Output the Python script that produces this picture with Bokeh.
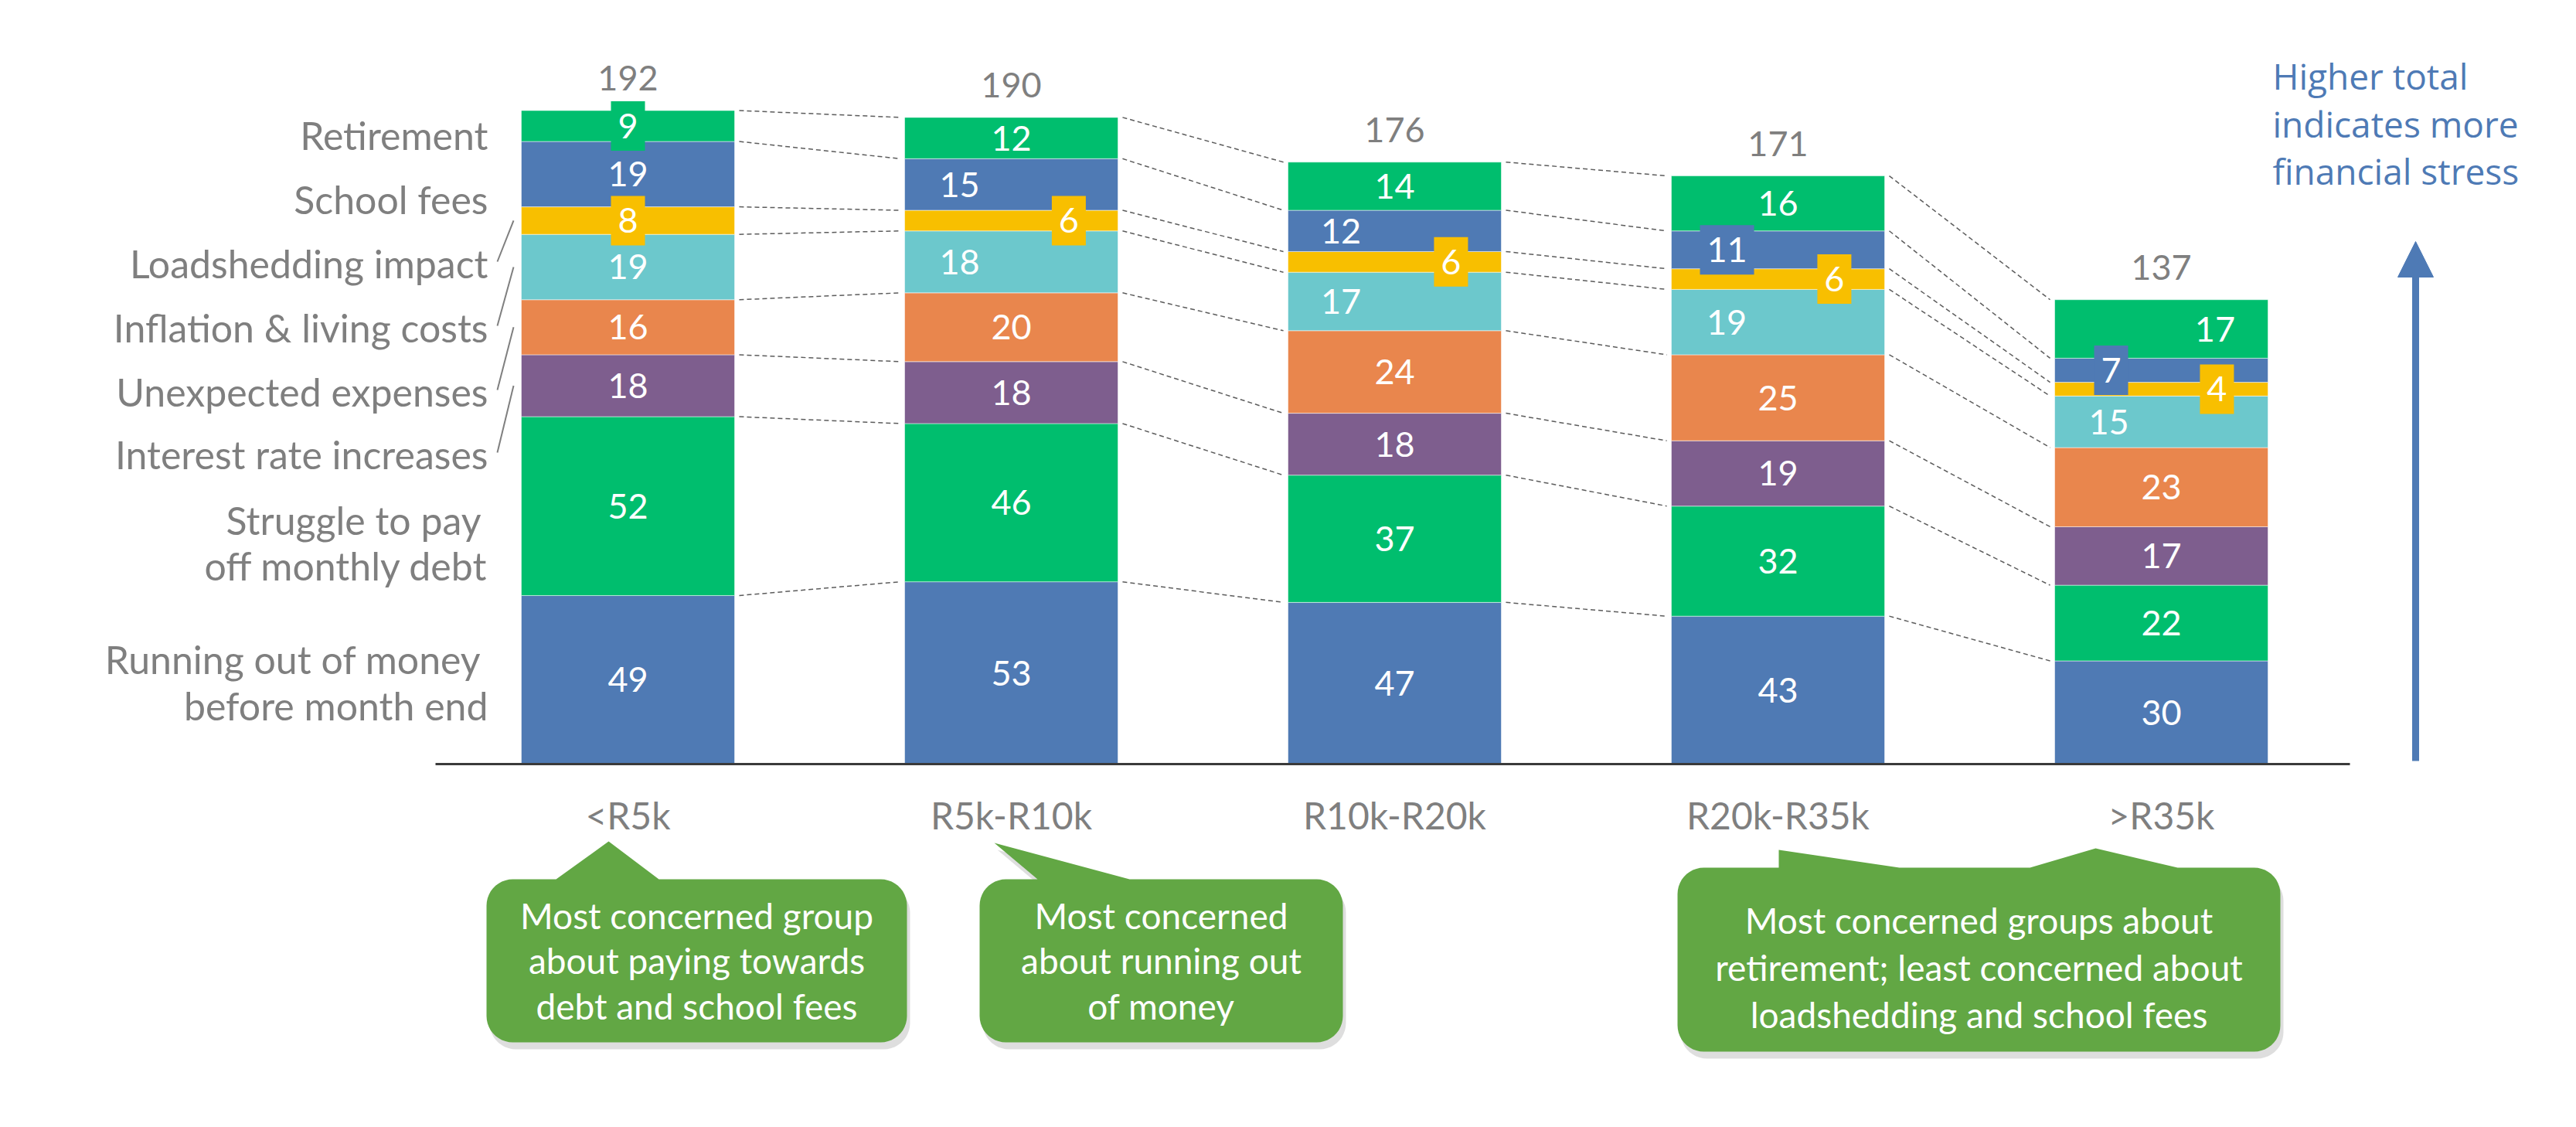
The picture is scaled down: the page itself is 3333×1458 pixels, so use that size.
import numpy as np
from bokeh.plotting import figure
from bokeh.models import LinearAxis, FixedTicker, Arrow, NormalHead, Range1d
from bokeh.core.properties import value
from bokeh.embed import file_html
from bokeh.resources import INLINE

# ---------------- data ----------------
categories = ["<R5k", "R5k-R10k", "R10k-R20k", "R20k-R35k", ">R35k"]
series_labels = [
    "Running out of money\nbefore month end",
    "Struggle to pay\noff monthly debt",
    "Interest rate increases",
    "Unexpected expenses",
    "Inflation & living costs",
    "Loadshedding impact",
    "School fees",
    "Retirement",
]
running_out = [49, 53, 47, 43, 30]
struggle_debt = [52, 46, 37, 32, 22]
interest_rate = [18, 18, 18, 19, 17]
unexpected = [16, 20, 24, 25, 23]
inflation = [19, 18, 17, 19, 15]
loadshedding = [8, 6, 6, 6, 4]
school_fees = [19, 15, 12, 11, 7]
retirement = [9, 12, 14, 16, 17]
totals = [192, 190, 176, 171, 137]

callout_texts = [
    ["Most concerned group", "about paying towards", "debt and school fees"],
    ["Most concerned", "about running out", "of money"],
    ["Most concerned groups about", "retirement; least concerned about", "loadshedding and school fees"],
]
note_lines = ["Higher total", "indicates more", "financial stress"]

# ---------------- styles ----------------
colors = ["#4F7AB4", "#00BE6E", "#7E5E8E", "#E9864D", "#6CC8CC", "#F8BF00", "#4F7AB4", "#00BE6E"]
GRAY = "#7F7F7F"
BLUE = "#4E7AB5"
CALLOUT = "#62A744"
FONT = value("Lato")

W, H = 3333, 1458
X0_PX, DX_PX, BASE_PX, PPU = 812.0, 496.0, 988.0, 4.45
BAR_W = 276.0 / DX_PX


def dx(px):
    return (px - X0_PX) / DX_PX


def dy(py):
    return (BASE_PX - py) / PPU


p = figure(width=W, height=H, x_range=Range1d(dx(0), dx(W)), y_range=Range1d(dy(H), dy(0)),
           output_backend="svg", toolbar_location=None, x_axis_type=None, y_axis_type=None,
           min_border=0, outline_line_color=None, background_fill_color="white")

vals = np.array([running_out, struggle_debt, interest_rate, unexpected,
                 inflation, loadshedding, school_fees, retirement], dtype=float)
tops = np.cumsum(vals, axis=0)
bottoms = tops - vals
ns, nc = vals.shape
xs = np.arange(nc, dtype=float)

# connectors (dashed) between bars
cx0, cy0, cx1, cy1 = [], [], [], []
for k in range(nc - 1):
    for i in range(ns):
        cx0.append(k + BAR_W / 2 + 0.012)
        cx1.append(k + 1 - BAR_W / 2 - 0.012)
        cy0.append(tops[i, k])
        cy1.append(tops[i, k + 1])
p.segment(x0=cx0, y0=cy0, x1=cx1, y1=cy1, line_color="#404040", line_width=1.5,
          line_dash="6 4", line_alpha=0.85)

# bars
bx, bb, bt, bc = [], [], [], []
for i in range(ns):
    for k in range(nc):
        bx.append(xs[k]); bb.append(bottoms[i, k]); bt.append(tops[i, k]); bc.append(colors[i])
p.vbar(x=bx, width=BAR_W, bottom=bb, top=bt, fill_color=bc, line_color="white",
       line_width=1, line_alpha=0.5)

# value labels
label_dx = {
    (4, 1): -0.135, (5, 1): 0.15, (6, 1): -0.135,
    (4, 2): -0.14, (5, 2): 0.147, (6, 2): -0.14,
    (4, 3): -0.134, (5, 3): 0.147, (6, 3): -0.133,
    (4, 4): -0.137, (5, 4): 0.145, (6, 4): -0.131, (7, 4): 0.14,
}
boxed = {(7, 0), (5, 0), (5, 1), (5, 2), (6, 3), (5, 3), (6, 4), (5, 4)}
lx, ly, lt = [], [], []
rx, ry, rw, rc = [], [], [], []
for i in range(ns):
    for k in range(nc):
        x = xs[k] + label_dx.get((i, k), 0.0)
        y = (bottoms[i, k] + tops[i, k]) / 2
        txt = str(int(vals[i, k]))
        lx.append(x); ly.append(y); lt.append(txt)
        if (i, k) in boxed:
            rx.append(x); ry.append(y)
            rw.append((44 if len(txt) == 1 else 70) / DX_PX)
            rc.append(colors[i])
p.rect(x=rx, y=ry, width=rw, height=64 / PPU, fill_color=rc, line_color=None)
p.text(x=lx, y=ly, text=lt, text_color="white", text_font=FONT, text_font_size="45px",
       text_align="center", text_baseline="middle")

# totals
p.text(x=xs, y=tops[-1] + 42 / PPU, text=[str(t) for t in totals], text_color=GRAY,
       text_font=FONT, text_font_size="45px", text_align="center", text_baseline="middle")

# legend labels on the left (one text per line)
label_py = [(852, 912), (672, 731), 587, 506, 423, 340, 257, 174]
gx, gy, gt = [], [], []
for lab, pos in zip(series_labels, label_py):
    parts = lab.split("\n")
    if len(parts) == 1:
        gx.append(dx(631)); gy.append(dy(pos)); gt.append(parts[0])
    else:
        gx += [dx(622), dx(631)]; gy += [dy(pos[0]), dy(pos[1])]; gt += parts
p.text(x=gx, y=gy, text=gt, text_color=GRAY, text_font=FONT, text_font_size="50px",
       text_align="right", text_baseline="middle")
# leader lines
lead_idx = [2, 3, 4, 5]
p.segment(x0=[dx(643)] * 4, y0=[dy(label_py[i] - 2) for i in lead_idx],
          x1=[dx(664)] * 4, y1=[(bottoms[i, 0] + tops[i, 0]) / 2 for i in lead_idx],
          line_color=GRAY, line_width=2)

# category axis
axis = LinearAxis(fixed_location=0, ticker=FixedTicker(ticks=list(range(nc))),
                  major_label_overrides={k: c for k, c in enumerate(categories)},
                  bounds=(dx(563), dx(3040)), axis_line_color="#3A3A3A", axis_line_width=3,
                  major_tick_line_color=None, minor_tick_line_color=None,
                  major_label_text_font="Lato", major_label_text_font_size="48px",
                  major_label_text_color=GRAY, major_label_standoff=31)
p.add_layout(axis, "below")

# arrow + note
p.add_layout(Arrow(end=NormalHead(size=46, fill_color=BLUE, line_color=BLUE),
                   x_start=dx(3125), y_start=dy(984), x_end=dx(3125), y_end=dy(312),
                   line_color=BLUE, line_width=9))
p.text(x=[dx(2940)] * 3, y=[dy(v) for v in (97, 159, 220)], text=note_lines, text_color=BLUE,
       text_font=value("Open Sans"), text_font_size="46px", text_align="left",
       text_baseline="middle")


# callouts
def callout_poly(x0, x1, y0, y1, r, pointers):
    pts = [(x0 + r, y0)]
    for (b0, b1, ax, ay) in sorted(pointers):
        pts += [(b0, y0), (ax, ay), (b1, y0)]
    def arc(cx, cy, a0, a1):
        return [(cx + r * np.cos(t), cy + r * np.sin(t)) for t in np.linspace(a0, a1, 12)]
    pts += arc(x1 - r, y0 + r, -np.pi / 2, 0)
    pts += arc(x1 - r, y1 - r, 0, np.pi / 2)
    pts += arc(x0 + r, y1 - r, np.pi / 2, np.pi)
    pts += arc(x0 + r, y0 + r, np.pi, 1.5 * np.pi)
    return [q[0] for q in pts], [q[1] for q in pts]


callouts = [
    (629, 1173, 1137, 1348, [(719, 852, 787, 1088)], [1184, 1242, 1301]),
    (1267, 1737, 1137, 1348, [(1342, 1461, 1286, 1090)], [1184, 1242, 1301]),
    (2170, 2950, 1122, 1360, [(2301, 2457, 2301, 1099), (2626, 2817, 2711, 1097)], [1190, 1251, 1312]),
]
for (x0, x1, y0, y1, ptrs, lys), lines in zip(callouts, callout_texts):
    px_, py_ = callout_poly(x0, x1, y0, y1, 34, ptrs)
    p.patch([dx(v + 4) for v in px_], [dy(v + 9) for v in py_], fill_color="#000000",
            fill_alpha=0.13, line_color=None)
    p.patch([dx(v) for v in px_], [dy(v) for v in py_], fill_color=CALLOUT, line_color=None)
    p.text(x=[dx((x0 + x1) / 2)] * len(lines), y=[dy(v) for v in lys], text=lines,
           text_color="white", text_font=FONT, text_font_size="46px", text_align="center",
           text_baseline="middle")

open("out.html", "w").write(file_html(p, INLINE))
